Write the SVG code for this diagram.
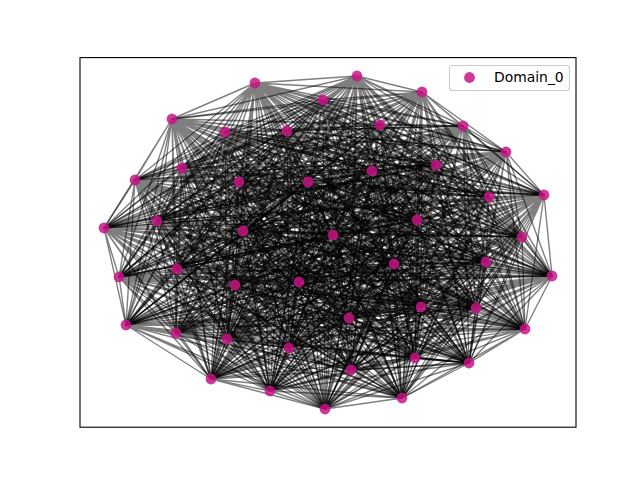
<svg xmlns="http://www.w3.org/2000/svg" width="640" height="480" viewBox="0 0 640 480">
<style>
.e{fill:none;stroke:#000;stroke-opacity:.5;stroke-width:1.4;stroke-linejoin:round}
.n{fill:#c71585;fill-opacity:.85}
.t{font-family:"DejaVu Sans","Liberation Sans",sans-serif;font-size:13.9px;fill:#000}
</style>
<rect width="640" height="480" fill="#fff"/>
<g id="edges">
<path class="e" d="M255 83 357 76 255 83 422 92 255 83 323 100 255 83 172 119 255 83 225 132 255 83 287 131 255 83 380 125 255 83 463 126 255 83 506 152 255 83 135 180 255 83 182 168 255 83 239 182 255 83 308 182 255 83 372 171 255 83 436 165 255 83 489 197 255 83 544 195 255 83 104 228 255 83 157 221 255 83 243 231 255 83 333 235 255 83 417 220 255 83 522 237 255 83 119 277 255 83 177 269 255 83 235 285 255 83 299 282 255 83 394 264 255 83 486 262 255 83 552 276 255 83 126 325 255 83 176 333 255 83 227 339 255 83 289 348 255 83 349 318 255 83 421 307 255 83 476 308 255 83 525 329 255 83 211 379 255 83 270 391 255 83 325 409 255 83 351 370 255 83 415 358 255 83 469 363 255 83 402 398"/>
<path class="e" d="M357 76 422 92 357 76 323 100 357 76 172 119 357 76 225 132 357 76 287 131 357 76 380 125 357 76 463 126 357 76 506 152 357 76 135 180 357 76 182 168 357 76 239 182 357 76 308 182 357 76 372 171 357 76 436 165 357 76 489 197 357 76 544 195 357 76 104 228 357 76 157 221 357 76 243 231 357 76 333 235 357 76 417 220 357 76 522 237 357 76 119 277 357 76 177 269 357 76 235 285 357 76 299 282 357 76 394 264 357 76 486 262 357 76 552 276 357 76 126 325 357 76 176 333 357 76 227 339 357 76 289 348 357 76 349 318 357 76 421 307 357 76 476 308 357 76 525 329 357 76 211 379 357 76 270 391 357 76 325 409 357 76 351 370 357 76 415 358 357 76 469 363 357 76 402 398"/>
<path class="e" d="M422 92 323 100 422 92 172 119 422 92 225 132 422 92 287 131 422 92 380 125 422 92 463 126 422 92 506 152 422 92 135 180 422 92 182 168 422 92 239 182 422 92 308 182 422 92 372 171 422 92 436 165 422 92 489 197 422 92 544 195 422 92 104 228 422 92 157 221 422 92 243 231 422 92 333 235 422 92 417 220 422 92 522 237 422 92 119 277 422 92 177 269 422 92 235 285 422 92 299 282 422 92 394 264 422 92 486 262 422 92 552 276 422 92 126 325 422 92 176 333 422 92 227 339 422 92 289 348 422 92 349 318 422 92 421 307 422 92 476 308 422 92 525 329 422 92 211 379 422 92 270 391 422 92 325 409 422 92 351 370 422 92 415 358 422 92 469 363 422 92 402 398"/>
<path class="e" d="M323 100 172 119 323 100 225 132 323 100 287 131 323 100 380 125 323 100 463 126 323 100 506 152 323 100 135 180 323 100 182 168 323 100 239 182 323 100 308 182 323 100 372 171 323 100 436 165 323 100 489 197 323 100 544 195 323 100 104 228 323 100 157 221 323 100 243 231 323 100 333 235 323 100 417 220 323 100 522 237 323 100 119 277 323 100 177 269 323 100 235 285 323 100 299 282 323 100 394 264 323 100 486 262 323 100 552 276 323 100 126 325 323 100 176 333 323 100 227 339 323 100 289 348 323 100 349 318 323 100 421 307 323 100 476 308 323 100 525 329 323 100 211 379 323 100 270 391 323 100 325 409 323 100 351 370 323 100 415 358 323 100 469 363 323 100 402 398"/>
<path class="e" d="M172 119 225 132 172 119 287 131 172 119 380 125 172 119 463 126 172 119 506 152 172 119 135 180 172 119 182 168 172 119 239 182 172 119 308 182 172 119 372 171 172 119 436 165 172 119 489 197 172 119 544 195 172 119 104 228 172 119 157 221 172 119 243 231 172 119 333 235 172 119 417 220 172 119 522 237 172 119 119 277 172 119 177 269 172 119 235 285 172 119 299 282 172 119 394 264 172 119 486 262 172 119 552 276 172 119 126 325 172 119 176 333 172 119 227 339 172 119 289 348 172 119 349 318 172 119 421 307 172 119 476 308 172 119 525 329 172 119 211 379 172 119 270 391 172 119 325 409 172 119 351 370 172 119 415 358 172 119 469 363 172 119 402 398"/>
<path class="e" d="M225 132 287 131 225 132 380 125 225 132 463 126 225 132 506 152 225 132 135 180 225 132 182 168 225 132 239 182 225 132 308 182 225 132 372 171 225 132 436 165 225 132 489 197 225 132 544 195 225 132 104 228 225 132 157 221 225 132 243 231 225 132 333 235 225 132 417 220 225 132 522 237 225 132 119 277 225 132 177 269 225 132 235 285 225 132 299 282 225 132 394 264 225 132 486 262 225 132 552 276 225 132 126 325 225 132 176 333 225 132 227 339 225 132 289 348 225 132 349 318 225 132 421 307 225 132 476 308 225 132 525 329 225 132 211 379 225 132 270 391 225 132 325 409 225 132 351 370 225 132 415 358 225 132 469 363 225 132 402 398"/>
<path class="e" d="M287 131 380 125 287 131 463 126 287 131 506 152 287 131 135 180 287 131 182 168 287 131 239 182 287 131 308 182 287 131 372 171 287 131 436 165 287 131 489 197 287 131 544 195 287 131 104 228 287 131 157 221 287 131 243 231 287 131 333 235 287 131 417 220 287 131 522 237 287 131 119 277 287 131 177 269 287 131 235 285 287 131 299 282 287 131 394 264 287 131 486 262 287 131 552 276 287 131 126 325 287 131 176 333 287 131 227 339 287 131 289 348 287 131 349 318 287 131 421 307 287 131 476 308 287 131 525 329 287 131 211 379 287 131 270 391 287 131 325 409 287 131 351 370 287 131 415 358 287 131 469 363 287 131 402 398"/>
<path class="e" d="M380 125 463 126 380 125 506 152 380 125 135 180 380 125 182 168 380 125 239 182 380 125 308 182 380 125 372 171 380 125 436 165 380 125 489 197 380 125 544 195 380 125 104 228 380 125 157 221 380 125 243 231 380 125 333 235 380 125 417 220 380 125 522 237 380 125 119 277 380 125 177 269 380 125 235 285 380 125 299 282 380 125 394 264 380 125 486 262 380 125 552 276 380 125 126 325 380 125 176 333 380 125 227 339 380 125 289 348 380 125 349 318 380 125 421 307 380 125 476 308 380 125 525 329 380 125 211 379 380 125 270 391 380 125 325 409 380 125 351 370 380 125 415 358 380 125 469 363 380 125 402 398"/>
<path class="e" d="M463 126 506 152 463 126 135 180 463 126 182 168 463 126 239 182 463 126 308 182 463 126 372 171 463 126 436 165 463 126 489 197 463 126 544 195 463 126 104 228 463 126 157 221 463 126 243 231 463 126 333 235 463 126 417 220 463 126 522 237 463 126 119 277 463 126 177 269 463 126 235 285 463 126 299 282 463 126 394 264 463 126 486 262 463 126 552 276 463 126 126 325 463 126 176 333 463 126 227 339 463 126 289 348 463 126 349 318 463 126 421 307 463 126 476 308 463 126 525 329 463 126 211 379 463 126 270 391 463 126 325 409 463 126 351 370 463 126 415 358 463 126 469 363 463 126 402 398"/>
<path class="e" d="M506 152 135 180 506 152 182 168 506 152 239 182 506 152 308 182 506 152 372 171 506 152 436 165 506 152 489 197 506 152 544 195 506 152 104 228 506 152 157 221 506 152 243 231 506 152 333 235 506 152 417 220 506 152 522 237 506 152 119 277 506 152 177 269 506 152 235 285 506 152 299 282 506 152 394 264 506 152 486 262 506 152 552 276 506 152 126 325 506 152 176 333 506 152 227 339 506 152 289 348 506 152 349 318 506 152 421 307 506 152 476 308 506 152 525 329 506 152 211 379 506 152 270 391 506 152 325 409 506 152 351 370 506 152 415 358 506 152 469 363 506 152 402 398"/>
<path class="e" d="M135 180 182 168 135 180 239 182 135 180 308 182 135 180 372 171 135 180 436 165 135 180 489 197 135 180 544 195 135 180 104 228 135 180 157 221 135 180 243 231 135 180 333 235 135 180 417 220 135 180 522 237 135 180 119 277 135 180 177 269 135 180 235 285 135 180 299 282 135 180 394 264 135 180 486 262 135 180 552 276 135 180 126 325 135 180 176 333 135 180 227 339 135 180 289 348 135 180 349 318 135 180 421 307 135 180 476 308 135 180 525 329 135 180 211 379 135 180 270 391 135 180 325 409 135 180 351 370 135 180 415 358 135 180 469 363 135 180 402 398"/>
<path class="e" d="M182 168 239 182 182 168 308 182 182 168 372 171 182 168 436 165 182 168 489 197 182 168 544 195 182 168 104 228 182 168 157 221 182 168 243 231 182 168 333 235 182 168 417 220 182 168 522 237 182 168 119 277 182 168 177 269 182 168 235 285 182 168 299 282 182 168 394 264 182 168 486 262 182 168 552 276 182 168 126 325 182 168 176 333 182 168 227 339 182 168 289 348 182 168 349 318 182 168 421 307 182 168 476 308 182 168 525 329 182 168 211 379 182 168 270 391 182 168 325 409 182 168 351 370 182 168 415 358 182 168 469 363 182 168 402 398"/>
<path class="e" d="M239 182 308 182 239 182 372 171 239 182 436 165 239 182 489 197 239 182 544 195 239 182 104 228 239 182 157 221 239 182 243 231 239 182 333 235 239 182 417 220 239 182 522 237 239 182 119 277 239 182 177 269 239 182 235 285 239 182 299 282 239 182 394 264 239 182 486 262 239 182 552 276 239 182 126 325 239 182 176 333 239 182 227 339 239 182 289 348 239 182 349 318 239 182 421 307 239 182 476 308 239 182 525 329 239 182 211 379 239 182 270 391 239 182 325 409 239 182 351 370 239 182 415 358 239 182 469 363 239 182 402 398"/>
<path class="e" d="M308 182 372 171 308 182 436 165 308 182 489 197 308 182 544 195 308 182 104 228 308 182 157 221 308 182 243 231 308 182 333 235 308 182 417 220 308 182 522 237 308 182 119 277 308 182 177 269 308 182 235 285 308 182 299 282 308 182 394 264 308 182 486 262 308 182 552 276 308 182 126 325 308 182 176 333 308 182 227 339 308 182 289 348 308 182 349 318 308 182 421 307 308 182 476 308 308 182 525 329 308 182 211 379 308 182 270 391 308 182 325 409 308 182 351 370 308 182 415 358 308 182 469 363 308 182 402 398"/>
<path class="e" d="M372 171 436 165 372 171 489 197 372 171 544 195 372 171 104 228 372 171 157 221 372 171 243 231 372 171 333 235 372 171 417 220 372 171 522 237 372 171 119 277 372 171 177 269 372 171 235 285 372 171 299 282 372 171 394 264 372 171 486 262 372 171 552 276 372 171 126 325 372 171 176 333 372 171 227 339 372 171 289 348 372 171 349 318 372 171 421 307 372 171 476 308 372 171 525 329 372 171 211 379 372 171 270 391 372 171 325 409 372 171 351 370 372 171 415 358 372 171 469 363 372 171 402 398"/>
<path class="e" d="M436 165 489 197 436 165 544 195 436 165 104 228 436 165 157 221 436 165 243 231 436 165 333 235 436 165 417 220 436 165 522 237 436 165 119 277 436 165 177 269 436 165 235 285 436 165 299 282 436 165 394 264 436 165 486 262 436 165 552 276 436 165 126 325 436 165 176 333 436 165 227 339 436 165 289 348 436 165 349 318 436 165 421 307 436 165 476 308 436 165 525 329 436 165 211 379 436 165 270 391 436 165 325 409 436 165 351 370 436 165 415 358 436 165 469 363 436 165 402 398"/>
<path class="e" d="M489 197 544 195 489 197 104 228 489 197 157 221 489 197 243 231 489 197 333 235 489 197 417 220 489 197 522 237 489 197 119 277 489 197 177 269 489 197 235 285 489 197 299 282 489 197 394 264 489 197 486 262 489 197 552 276 489 197 126 325 489 197 176 333 489 197 227 339 489 197 289 348 489 197 349 318 489 197 421 307 489 197 476 308 489 197 525 329 489 197 211 379 489 197 270 391 489 197 325 409 489 197 351 370 489 197 415 358 489 197 469 363 489 197 402 398"/>
<path class="e" d="M544 195 104 228 544 195 157 221 544 195 243 231 544 195 333 235 544 195 417 220 544 195 522 237 544 195 119 277 544 195 177 269 544 195 235 285 544 195 299 282 544 195 394 264 544 195 486 262 544 195 552 276 544 195 126 325 544 195 176 333 544 195 227 339 544 195 289 348 544 195 349 318 544 195 421 307 544 195 476 308 544 195 525 329 544 195 211 379 544 195 270 391 544 195 325 409 544 195 351 370 544 195 415 358 544 195 469 363 544 195 402 398"/>
<path class="e" d="M104 228 157 221 104 228 243 231 104 228 333 235 104 228 417 220 104 228 522 237 104 228 119 277 104 228 177 269 104 228 235 285 104 228 299 282 104 228 394 264 104 228 486 262 104 228 552 276 104 228 126 325 104 228 176 333 104 228 227 339 104 228 289 348 104 228 349 318 104 228 421 307 104 228 476 308 104 228 525 329 104 228 211 379 104 228 270 391 104 228 325 409 104 228 351 370 104 228 415 358 104 228 469 363 104 228 402 398"/>
<path class="e" d="M157 221 243 231 157 221 333 235 157 221 417 220 157 221 522 237 157 221 119 277 157 221 177 269 157 221 235 285 157 221 299 282 157 221 394 264 157 221 486 262 157 221 552 276 157 221 126 325 157 221 176 333 157 221 227 339 157 221 289 348 157 221 349 318 157 221 421 307 157 221 476 308 157 221 525 329 157 221 211 379 157 221 270 391 157 221 325 409 157 221 351 370 157 221 415 358 157 221 469 363 157 221 402 398"/>
<path class="e" d="M243 231 333 235 243 231 417 220 243 231 522 237 243 231 119 277 243 231 177 269 243 231 235 285 243 231 299 282 243 231 394 264 243 231 486 262 243 231 552 276 243 231 126 325 243 231 176 333 243 231 227 339 243 231 289 348 243 231 349 318 243 231 421 307 243 231 476 308 243 231 525 329 243 231 211 379 243 231 270 391 243 231 325 409 243 231 351 370 243 231 415 358 243 231 469 363 243 231 402 398"/>
<path class="e" d="M333 235 417 220 333 235 522 237 333 235 119 277 333 235 177 269 333 235 235 285 333 235 299 282 333 235 394 264 333 235 486 262 333 235 552 276 333 235 126 325 333 235 176 333 333 235 227 339 333 235 289 348 333 235 349 318 333 235 421 307 333 235 476 308 333 235 525 329 333 235 211 379 333 235 270 391 333 235 325 409 333 235 351 370 333 235 415 358 333 235 469 363 333 235 402 398"/>
<path class="e" d="M417 220 522 237 417 220 119 277 417 220 177 269 417 220 235 285 417 220 299 282 417 220 394 264 417 220 486 262 417 220 552 276 417 220 126 325 417 220 176 333 417 220 227 339 417 220 289 348 417 220 349 318 417 220 421 307 417 220 476 308 417 220 525 329 417 220 211 379 417 220 270 391 417 220 325 409 417 220 351 370 417 220 415 358 417 220 469 363 417 220 402 398"/>
<path class="e" d="M522 237 119 277 522 237 177 269 522 237 235 285 522 237 299 282 522 237 394 264 522 237 486 262 522 237 552 276 522 237 126 325 522 237 176 333 522 237 227 339 522 237 289 348 522 237 349 318 522 237 421 307 522 237 476 308 522 237 525 329 522 237 211 379 522 237 270 391 522 237 325 409 522 237 351 370 522 237 415 358 522 237 469 363 522 237 402 398"/>
<path class="e" d="M119 277 177 269 119 277 235 285 119 277 299 282 119 277 394 264 119 277 486 262 119 277 552 276 119 277 126 325 119 277 176 333 119 277 227 339 119 277 289 348 119 277 349 318 119 277 421 307 119 277 476 308 119 277 525 329 119 277 211 379 119 277 270 391 119 277 325 409 119 277 351 370 119 277 415 358 119 277 469 363 119 277 402 398"/>
<path class="e" d="M177 269 235 285 177 269 299 282 177 269 394 264 177 269 486 262 177 269 552 276 177 269 126 325 177 269 176 333 177 269 227 339 177 269 289 348 177 269 349 318 177 269 421 307 177 269 476 308 177 269 525 329 177 269 211 379 177 269 270 391 177 269 325 409 177 269 351 370 177 269 415 358 177 269 469 363 177 269 402 398"/>
<path class="e" d="M235 285 299 282 235 285 394 264 235 285 486 262 235 285 552 276 235 285 126 325 235 285 176 333 235 285 227 339 235 285 289 348 235 285 349 318 235 285 421 307 235 285 476 308 235 285 525 329 235 285 211 379 235 285 270 391 235 285 325 409 235 285 351 370 235 285 415 358 235 285 469 363 235 285 402 398"/>
<path class="e" d="M299 282 394 264 299 282 486 262 299 282 552 276 299 282 126 325 299 282 176 333 299 282 227 339 299 282 289 348 299 282 349 318 299 282 421 307 299 282 476 308 299 282 525 329 299 282 211 379 299 282 270 391 299 282 325 409 299 282 351 370 299 282 415 358 299 282 469 363 299 282 402 398"/>
<path class="e" d="M394 264 486 262 394 264 552 276 394 264 126 325 394 264 176 333 394 264 227 339 394 264 289 348 394 264 349 318 394 264 421 307 394 264 476 308 394 264 525 329 394 264 211 379 394 264 270 391 394 264 325 409 394 264 351 370 394 264 415 358 394 264 469 363 394 264 402 398"/>
<path class="e" d="M486 262 552 276 486 262 126 325 486 262 176 333 486 262 227 339 486 262 289 348 486 262 349 318 486 262 421 307 486 262 476 308 486 262 525 329 486 262 211 379 486 262 270 391 486 262 325 409 486 262 351 370 486 262 415 358 486 262 469 363 486 262 402 398"/>
<path class="e" d="M552 276 126 325 552 276 176 333 552 276 227 339 552 276 289 348 552 276 349 318 552 276 421 307 552 276 476 308 552 276 525 329 552 276 211 379 552 276 270 391 552 276 325 409 552 276 351 370 552 276 415 358 552 276 469 363 552 276 402 398"/>
<path class="e" d="M126 325 176 333 126 325 227 339 126 325 289 348 126 325 349 318 126 325 421 307 126 325 476 308 126 325 525 329 126 325 211 379 126 325 270 391 126 325 325 409 126 325 351 370 126 325 415 358 126 325 469 363 126 325 402 398"/>
<path class="e" d="M176 333 227 339 176 333 289 348 176 333 349 318 176 333 421 307 176 333 476 308 176 333 525 329 176 333 211 379 176 333 270 391 176 333 325 409 176 333 351 370 176 333 415 358 176 333 469 363 176 333 402 398"/>
<path class="e" d="M227 339 289 348 227 339 349 318 227 339 421 307 227 339 476 308 227 339 525 329 227 339 211 379 227 339 270 391 227 339 325 409 227 339 351 370 227 339 415 358 227 339 469 363 227 339 402 398"/>
<path class="e" d="M289 348 349 318 289 348 421 307 289 348 476 308 289 348 525 329 289 348 211 379 289 348 270 391 289 348 325 409 289 348 351 370 289 348 415 358 289 348 469 363 289 348 402 398"/>
<path class="e" d="M349 318 421 307 349 318 476 308 349 318 525 329 349 318 211 379 349 318 270 391 349 318 325 409 349 318 351 370 349 318 415 358 349 318 469 363 349 318 402 398"/>
<path class="e" d="M421 307 476 308 421 307 525 329 421 307 211 379 421 307 270 391 421 307 325 409 421 307 351 370 421 307 415 358 421 307 469 363 421 307 402 398"/>
<path class="e" d="M476 308 525 329 476 308 211 379 476 308 270 391 476 308 325 409 476 308 351 370 476 308 415 358 476 308 469 363 476 308 402 398"/>
<path class="e" d="M525 329 211 379 525 329 270 391 525 329 325 409 525 329 351 370 525 329 415 358 525 329 469 363 525 329 402 398"/>
<path class="e" d="M211 379 270 391 211 379 325 409 211 379 351 370 211 379 415 358 211 379 469 363 211 379 402 398"/>
<path class="e" d="M270 391 325 409 270 391 351 370 270 391 415 358 270 391 469 363 270 391 402 398"/>
<path class="e" d="M325 409 351 370 325 409 415 358 325 409 469 363 325 409 402 398"/>
<path class="e" d="M351 370 415 358 351 370 469 363 351 370 402 398"/>
<path class="e" d="M415 358 469 363 415 358 402 398"/>
<path class="e" d="M469 363 402 398"/>
</g>
<g id="nodes">
<g id="n0"><circle class="n" cx="255" cy="83" r="5.4"/></g>
<g id="n1"><circle class="n" cx="357" cy="76" r="5.4"/></g>
<g id="n2"><circle class="n" cx="422" cy="92" r="5.4"/></g>
<g id="n3"><circle class="n" cx="323" cy="100" r="5.4"/></g>
<g id="n4"><circle class="n" cx="172" cy="119" r="5.4"/></g>
<g id="n5"><circle class="n" cx="225" cy="132" r="5.4"/></g>
<g id="n6"><circle class="n" cx="287" cy="131" r="5.4"/></g>
<g id="n7"><circle class="n" cx="380" cy="125" r="5.4"/></g>
<g id="n8"><circle class="n" cx="463" cy="126" r="5.4"/></g>
<g id="n9"><circle class="n" cx="506" cy="152" r="5.4"/></g>
<g id="n10"><circle class="n" cx="135" cy="180" r="5.4"/></g>
<g id="n11"><circle class="n" cx="182" cy="168" r="5.4"/></g>
<g id="n12"><circle class="n" cx="239" cy="182" r="5.4"/></g>
<g id="n13"><circle class="n" cx="308" cy="182" r="5.4"/></g>
<g id="n14"><circle class="n" cx="372" cy="171" r="5.4"/></g>
<g id="n15"><circle class="n" cx="436" cy="165" r="5.4"/></g>
<g id="n16"><circle class="n" cx="489" cy="197" r="5.4"/></g>
<g id="n17"><circle class="n" cx="544" cy="195" r="5.4"/></g>
<g id="n18"><circle class="n" cx="104" cy="228" r="5.4"/></g>
<g id="n19"><circle class="n" cx="157" cy="221" r="5.4"/></g>
<g id="n20"><circle class="n" cx="243" cy="231" r="5.4"/></g>
<g id="n21"><circle class="n" cx="333" cy="235" r="5.4"/></g>
<g id="n22"><circle class="n" cx="417" cy="220" r="5.4"/></g>
<g id="n23"><circle class="n" cx="522" cy="237" r="5.4"/></g>
<g id="n24"><circle class="n" cx="119" cy="277" r="5.4"/></g>
<g id="n25"><circle class="n" cx="177" cy="269" r="5.4"/></g>
<g id="n26"><circle class="n" cx="235" cy="285" r="5.4"/></g>
<g id="n27"><circle class="n" cx="299" cy="282" r="5.4"/></g>
<g id="n28"><circle class="n" cx="394" cy="264" r="5.4"/></g>
<g id="n29"><circle class="n" cx="486" cy="262" r="5.4"/></g>
<g id="n30"><circle class="n" cx="552" cy="276" r="5.4"/></g>
<g id="n31"><circle class="n" cx="126" cy="325" r="5.4"/></g>
<g id="n32"><circle class="n" cx="176" cy="333" r="5.4"/></g>
<g id="n33"><circle class="n" cx="227" cy="339" r="5.4"/></g>
<g id="n34"><circle class="n" cx="289" cy="348" r="5.4"/></g>
<g id="n35"><circle class="n" cx="349" cy="318" r="5.4"/></g>
<g id="n36"><circle class="n" cx="421" cy="307" r="5.4"/></g>
<g id="n37"><circle class="n" cx="476" cy="308" r="5.4"/></g>
<g id="n38"><circle class="n" cx="525" cy="329" r="5.4"/></g>
<g id="n39"><circle class="n" cx="211" cy="379" r="5.4"/></g>
<g id="n40"><circle class="n" cx="270" cy="391" r="5.4"/></g>
<g id="n41"><circle class="n" cx="325" cy="409" r="5.4"/></g>
<g id="n42"><circle class="n" cx="351" cy="370" r="5.4"/></g>
<g id="n43"><circle class="n" cx="415" cy="358" r="5.4"/></g>
<g id="n44"><circle class="n" cx="469" cy="363" r="5.4"/></g>
<g id="n45"><circle class="n" cx="402" cy="398" r="5.4"/></g>
</g>
<rect x="80" y="57.6" width="496" height="369.6" fill="none" stroke="#000" stroke-width="1.1"/>
<g id="legend">
<rect x="449.5" y="65.5" width="120" height="25" rx="3" fill="#fff" fill-opacity=".8" stroke="#ccc" stroke-width="1.1"/>
<circle class="n" cx="469.5" cy="77.5" r="5.4"/>
<text class="t" x="494" y="82">Domain_0</text>
</g>
</svg>
